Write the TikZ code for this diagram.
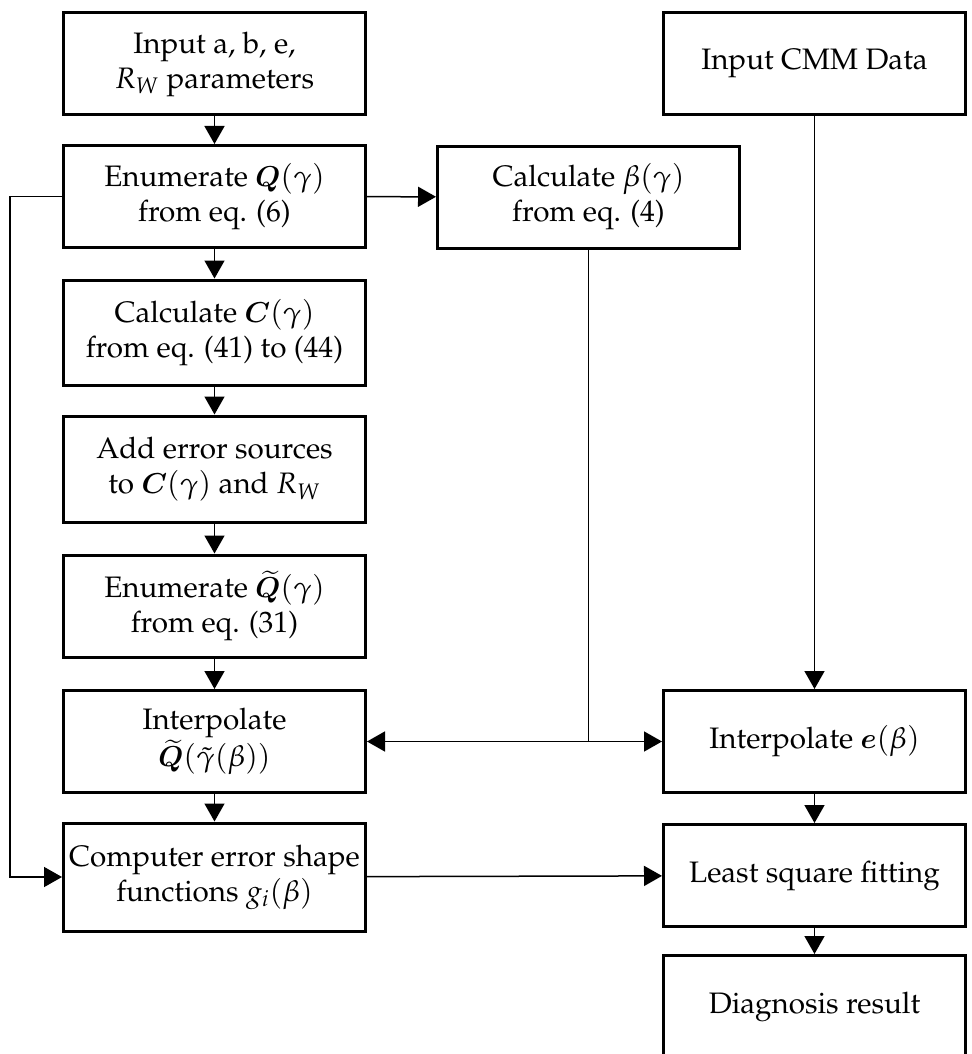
\documentclass[tikz,border=0pt]{standalone}
\usepackage[T1]{fontenc}
\usepackage{amsmath,bm}
\usepackage{mathpazo}
\usetikzlibrary{arrows.meta,calc}
\begin{document}
\begin{tikzpicture}[
  x=0.5pt, y=-0.5pt,
  >={Triangle[length=9pt,width=10pt]},
  block/.style={draw, line width=1.5pt, align=center, inner sep=0pt, minimum width=151pt, minimum height=51pt, font=\fontsize{14.8}{17.5}\selectfont},
  link/.style={draw, line width=0.75pt}
  ]
  \useasboundingbox (0,0) rectangle (971,1054);

  \node[block] (inp) at (214.5,64) {Input a, b, e,\\ $R_W$ parameters};
  \node[block] (enq) at (214.5,196.5) {Enumerate $\bm{Q}(\gamma)$\\ from eq. (6)};
  \node[block, minimum height=52.5pt] (calc) at (214.5,332.5) {Calculate $\bm{C}(\gamma)$\\ from eq. (41) to (44)};
  \node[block, minimum height=53pt] (err) at (214.5,469) {Add error sources\\ to $\bm{C}(\gamma)$ and $R_W$};
  \node[block] (enqt) at (214.5,606) {Enumerate $\widetilde{\bm{Q}}(\gamma)$\\ from eq. (31)};
  \node[block] (intq) at (214.5,741.5) {Interpolate\\ $\widetilde{\bm{Q}}(\tilde{\gamma}(\beta))$};
  \node[block, minimum height=54pt] (shape) at (214.5,877) {Computer error shape\\ functions $g_i(\beta)$};
  \node[block] (beta) at (588.5,197) {Calculate $\beta(\gamma)$\\ from eq. (4)};
  \node[block] (cmm) at (814.5,63.5) {Input CMM Data};
  \node[block] (inte) at (814.5,741.5) {Interpolate $\bm{e}(\beta)$};
  \node[block] (lsq) at (814.5,875.5) {Least square fitting};
  \node[block] (diag) at (814.5,1006.5) {Diagnosis result};

  \foreach \a/\b in {inp/enq, enq/calc, calc/err, err/enqt, enqt/intq, intq/shape, cmm/inte, inte/lsq, lsq/diag}
    \draw[link,->] (\a) -- (\b);
  \draw[link,->] (enq) -- (beta);
  \draw[link,->] (shape) -- (lsq);
  \draw[link,->] (enq.west) -- ++(-52,0) |- (shape.west);
  \coordinate (split) at (beta.south |- intq.east);
  \draw[link] (beta) -- (split);
  \draw[link,->] (split) -- (intq);
  \draw[link,->] (split) -- (inte);
\end{tikzpicture}
\end{document}
